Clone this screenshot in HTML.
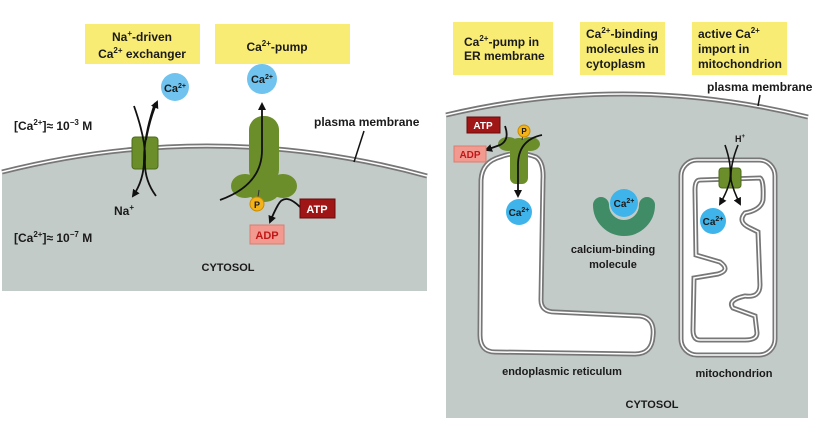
<!DOCTYPE html>
<html><head><meta charset="utf-8"><style>
html,body{margin:0;padding:0;background:#fff;width:822px;height:424px;overflow:hidden}
svg text{font-family:"Liberation Sans",sans-serif;font-weight:bold;fill:#1a1a1a}
</style></head><body>
<svg width="822" height="424" viewBox="0 0 822 424" xmlns="http://www.w3.org/2000/svg">
<defs>
<marker id="ah" markerWidth="8" markerHeight="8" refX="6" refY="4" orient="auto" markerUnits="userSpaceOnUse"><path d="M0,0 L8,4 L0,8 z" fill="#111"/></marker>
</defs>
<g>
<path d="M2,172 Q215,118 427,176 L427,291 L2,291 Z" fill="#c3cbc8"/>
<path d="M2,172 Q215,118 427,176" fill="none" stroke="#777" stroke-width="5"/>
<path d="M2,172 Q215,118 427,176" fill="none" stroke="#fff" stroke-width="1.5"/>
<rect x="85" y="24" width="115" height="40" fill="#f9ec74"/>
<text x="142" y="41" font-size="12" text-anchor="middle">Na<tspan font-size="8" dy="-5">+</tspan><tspan dy="5">-driven</tspan></text>
<text x="142" y="58" font-size="12" text-anchor="middle">Ca<tspan font-size="8" dy="-5">2+</tspan><tspan dy="5"> exchanger</tspan></text>
<rect x="215" y="24" width="135" height="40" fill="#f9ec74"/>
<text x="277" y="51" font-size="12" text-anchor="middle">Ca<tspan font-size="8" dy="-5">2+</tspan><tspan dy="5">-pump</tspan></text>
<text x="14" y="130" font-size="12">[Ca<tspan font-size="8" dy="-5">2+</tspan><tspan dy="5">]≈ 10</tspan><tspan font-size="8" dy="-5">−3</tspan><tspan dy="5"> M</tspan></text>
<text x="14" y="242" font-size="12">[Ca<tspan font-size="8" dy="-5">2+</tspan><tspan dy="5">]≈ 10</tspan><tspan font-size="8" dy="-5">−7</tspan><tspan dy="5"> M</tspan></text>
<text x="314" y="126" font-size="12">plasma membrane</text>
<line x1="364" y1="131" x2="354" y2="162" stroke="#111" stroke-width="1.5"/>
<text x="228" y="271" font-size="11" text-anchor="middle">CYTOSOL</text>
<rect x="132" y="137" width="26" height="32" rx="3" fill="#6b8e2a" stroke="#4e6b1c"/>
<path d="M134,106 Q146,140 145,160 Q144,180 156,196" fill="none" stroke="#111" stroke-width="1.8"/>
<path d="M155,103 Q144,135 144,160 Q144,180 133,196" fill="none" stroke="#111" stroke-width="1.8" marker-end="url(#ah)"/>
<path d="M146,140 Q150,118 157,102" fill="none" stroke="#111" stroke-width="1.8" marker-end="url(#ah)"/>
<circle cx="175" cy="87" r="14" fill="#6fc3ee"/>
<text x="175" y="92" font-size="11" text-anchor="middle">Ca<tspan font-size="7" dy="-4">2+</tspan></text>
<text x="114" y="215" font-size="12">Na<tspan font-size="8" dy="-5">+</tspan></text>
<g fill="#6b8e2a">
<rect x="249" y="116" width="30" height="68" rx="14"/>
<ellipse cx="245" cy="186" rx="14" ry="12"/>
<ellipse cx="283" cy="186" rx="14" ry="12"/>
<ellipse cx="264" cy="190" rx="16" ry="12"/>
</g>
<path d="M220,200 Q262,185 262,150 L262,104" fill="none" stroke="#111" stroke-width="1.8" marker-end="url(#ah)"/>
<circle cx="262" cy="79" r="15" fill="#6fc3ee"/>
<text x="262" y="83" font-size="11" text-anchor="middle">Ca<tspan font-size="7" dy="-4">2+</tspan></text>
<line x1="259" y1="190" x2="258" y2="197" stroke="#333"/>
<circle cx="257" cy="204" r="7" fill="#f3b21a" stroke="#c88a00"/>
<text x="257" y="208" font-size="9" text-anchor="middle">P</text>
<path d="M300,207 Q285,192 278,205 Q274,212 270,222" fill="none" stroke="#111" stroke-width="1.8" marker-end="url(#ah)"/>
<rect x="300" y="199" width="35" height="19" fill="#a01515" stroke="#6a0c0c"/>
<text x="317" y="213" font-size="11" text-anchor="middle" style="fill:#fff">ATP</text>
<rect x="250" y="225" width="34" height="19" fill="#f29a8f" stroke="#d87c70"/>
<text x="267" y="239" font-size="11" text-anchor="middle" style="fill:#c01818">ADP</text>
</g>
<g>
<path d="M446,115 Q627,72 808,117 L808,418 L446,418 Z" fill="#c3cbc8"/>
<path d="M446,115 Q627,72 808,117" fill="none" stroke="#777" stroke-width="5"/>
<path d="M446,115 Q627,72 808,117" fill="none" stroke="#fff" stroke-width="1.5"/>
<rect x="453" y="22" width="100" height="53" fill="#f9ec74"/>
<text x="464" y="46" font-size="12">Ca<tspan font-size="8" dy="-5">2+</tspan><tspan dy="5">-pump in</tspan></text>
<text x="464" y="60" font-size="12">ER membrane</text>
<rect x="580" y="22" width="85" height="53" fill="#f9ec74"/>
<text x="586" y="38" font-size="12">Ca<tspan font-size="8" dy="-5">2+</tspan><tspan dy="5">-binding</tspan></text>
<text x="586" y="53" font-size="12">molecules in</text>
<text x="586" y="68" font-size="12">cytoplasm</text>
<rect x="692" y="22" width="95" height="53" fill="#f9ec74"/>
<text x="698" y="38" font-size="12">active Ca<tspan font-size="8" dy="-5">2+</tspan></text>
<text x="698" y="53" font-size="12">import in</text>
<text x="698" y="68" font-size="12">mitochondrion</text>
<text x="707" y="91" font-size="12">plasma membrane</text>
<line x1="760" y1="95" x2="758" y2="106" stroke="#111" stroke-width="1.5"/>
<path d="M500,157 Q518,150 536,157 Q544,162 543,180 L541,300 Q541,312 555,312 L640,316 Q655,318 653,336 Q652,354 635,354 L495,352 Q480,352 480,335 L481,180 Q482,162 500,157 Z" fill="#fff" stroke="#777" stroke-width="5"/>
<path d="M500,157 Q518,150 536,157 Q544,162 543,180 L541,300 Q541,312 555,312 L640,316 Q655,318 653,336 Q652,354 635,354 L495,352 Q480,352 480,335 L481,180 Q482,162 500,157 Z" fill="none" stroke="#fff" stroke-width="1.5"/>
<g fill="#6b8e2a">
<rect x="510" y="142" width="18" height="42" rx="6"/>
<ellipse cx="508" cy="144" rx="10" ry="7"/>
<ellipse cx="530" cy="144" rx="10" ry="7"/>
<ellipse cx="519" cy="146" rx="10" ry="8"/>
</g>
<path d="M542,135 Q518,140 518,165 L518,196" fill="none" stroke="#111" stroke-width="1.8" marker-end="url(#ah)"/>
<path d="M505,126 Q510,140 500,145 L486,150" fill="none" stroke="#111" stroke-width="1.8" marker-end="url(#ah)"/>
<line x1="522" y1="140" x2="523" y2="135" stroke="#333"/>
<circle cx="524" cy="131" r="6" fill="#f3b21a" stroke="#c88a00"/>
<text x="524" y="134" font-size="8" text-anchor="middle">P</text>
<rect x="467" y="117" width="33" height="16" fill="#a01515" stroke="#6a0c0c"/>
<text x="483" y="129" font-size="10" text-anchor="middle" style="fill:#fff">ATP</text>
<rect x="454" y="146" width="32" height="16" fill="#f29a8f" stroke="#d87c70"/>
<text x="470" y="158" font-size="10" text-anchor="middle" style="fill:#c01818">ADP</text>
<circle cx="519" cy="212" r="13" fill="#3fb4ea"/>
<text x="519" y="216" font-size="10" text-anchor="middle">Ca<tspan font-size="7" dy="-4">2+</tspan></text>
<text x="562" y="375" font-size="11" text-anchor="middle">endoplasmic reticulum</text>
<path d="M601,205 A23,23 0 0 0 647,205" fill="none" stroke="#3f8c67" stroke-width="16" stroke-linecap="round"/>
<circle cx="624" cy="203" r="14" fill="#3fb4ea"/>
<text x="624" y="207" font-size="10" text-anchor="middle">Ca<tspan font-size="7" dy="-4">2+</tspan></text>
<text x="613" y="253" font-size="11" text-anchor="middle">calcium-binding</text>
<text x="613" y="268" font-size="11" text-anchor="middle">molecule</text>
<rect x="681" y="160" width="94" height="195" rx="16" fill="#fff" stroke="#777" stroke-width="5"/>
<rect x="681" y="160" width="94" height="195" rx="16" fill="none" stroke="#fff" stroke-width="1.5"/>
<path d="M700,180 L760,178 Q764,180 763,200 Q761,210 745,213 Q737,222 750,228 L758,232 L760,285 Q760,298 745,296 Q727,300 733,308 L755,316 L757,333 Q757,340 745,340 L700,340 Q693,340 693,330 L694,278 L718,274 Q731,270 720,262 L696,255 L695,190 Q695,180 700,180 Z" fill="none" stroke="#777" stroke-width="5"/>
<path d="M700,180 L760,178 Q764,180 763,200 Q761,210 745,213 Q737,222 750,228 L758,232 L760,285 Q760,298 745,296 Q727,300 733,308 L755,316 L757,333 Q757,340 745,340 L700,340 Q693,340 693,330 L694,278 L718,274 Q731,270 720,262 L696,255 L695,190 Q695,180 700,180 Z" fill="none" stroke="#fff" stroke-width="1.5"/>
<rect x="719" y="168" width="22" height="20" rx="3" fill="#6b8e2a" stroke="#4e6b1c"/>
<path d="M725,145 Q732,165 730,180 Q728,190 720,204" fill="none" stroke="#111" stroke-width="1.6" marker-end="url(#ah)"/>
<path d="M738,145 Q730,165 731,180 Q733,190 740,204" fill="none" stroke="#111" stroke-width="1.6" marker-end="url(#ah)"/>
<text x="735" y="142" font-size="9">H<tspan font-size="6" dy="-4">+</tspan></text>
<circle cx="713" cy="221" r="13" fill="#3fb4ea"/>
<text x="713" y="225" font-size="10" text-anchor="middle">Ca<tspan font-size="7" dy="-4">2+</tspan></text>
<text x="734" y="377" font-size="11" text-anchor="middle">mitochondrion</text>
<text x="652" y="408" font-size="11" text-anchor="middle">CYTOSOL</text>
</g>
</svg>
</body></html>
